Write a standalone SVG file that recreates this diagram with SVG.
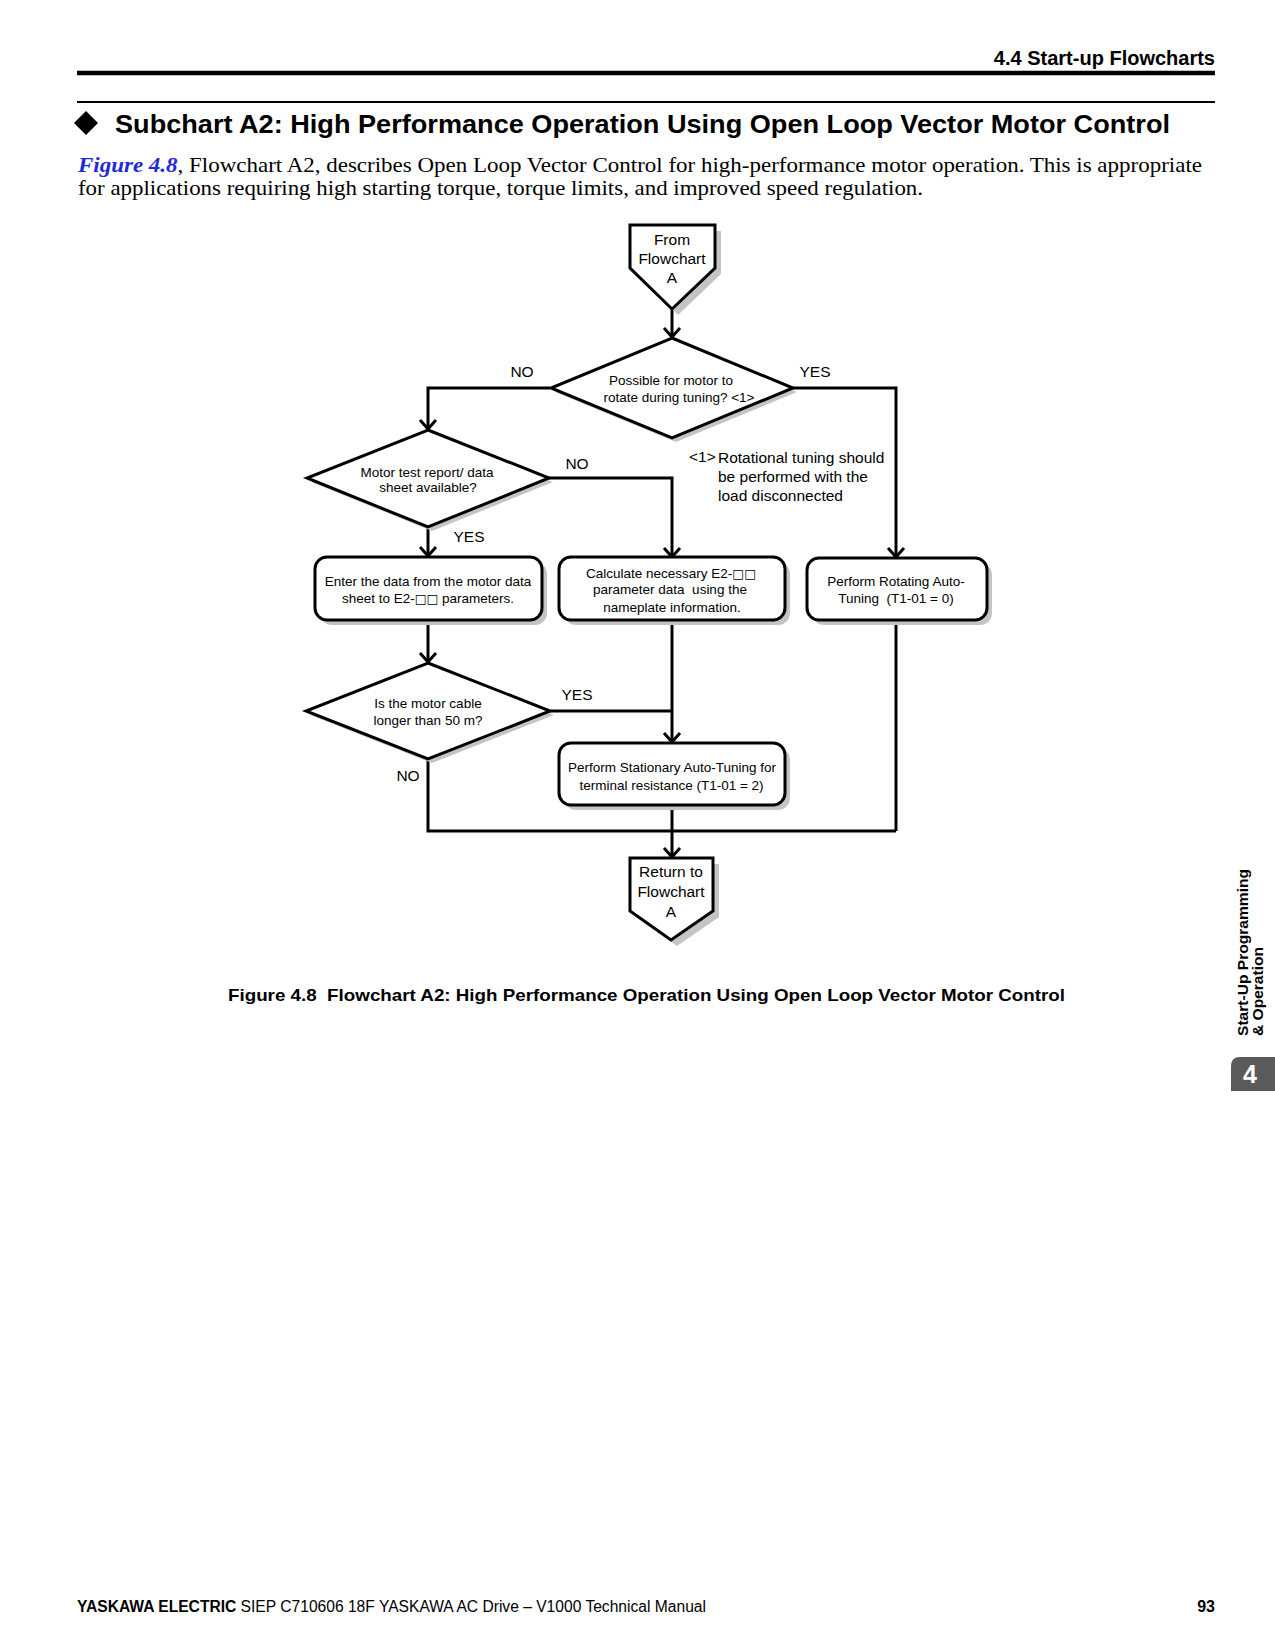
<svg xmlns="http://www.w3.org/2000/svg" width="1275" height="1650" viewBox="0 0 1275 1650">
<style>
  .sans { font-family: "Liberation Sans", Arial, sans-serif; }
  .serif { font-family: "Liberation Serif", "Times New Roman", serif; }
  .shape { fill: #ffffff; stroke: #000000; stroke-width: 3; stroke-linejoin: miter; }
  .shadow { fill: #c4c4c4; stroke: none; }
  .conn { fill: none; stroke: #000000; stroke-width: 3; }
  .t135 { font-family: "Liberation Sans", Arial, "DejaVu Sans", sans-serif; font-size: 13.5px; fill: #000; text-anchor: middle; white-space: pre; }
  .t155 { font-family: "Liberation Sans", Arial, sans-serif; font-size: 15.5px; fill: #000; text-anchor: middle; }
  .lbl { font-family: "Liberation Sans", Arial, sans-serif; font-size: 15.5px; fill: #000; text-anchor: middle; }
  .note { font-family: "Liberation Sans", Arial, sans-serif; font-size: 15.5px; fill: #000; }
  .sq { font-family: "DejaVu Sans", sans-serif; font-size: 12.5px; }
</style>
<defs>
  <marker id="arr" viewBox="-12 -10 14 20" refX="0" refY="0" markerWidth="14" markerHeight="20" markerUnits="userSpaceOnUse" orient="auto">
    <path d="M-9,-8 L0,0 L-9,8" fill="none" stroke="#000" stroke-width="3"/>
  </marker>
</defs>
<rect width="1275" height="1650" fill="#ffffff"/>

<!-- Page header -->
<g id="page-header">
  <text x="1215" y="65" class="sans" font-size="20" font-weight="bold" text-anchor="end">4.4 Start-up Flowcharts</text>
  <line x1="77" y1="73" x2="1215" y2="73" stroke="#000" stroke-width="4.5"/>
  <line x1="77" y1="102" x2="1215" y2="102" stroke="#000" stroke-width="2"/>
  <polygon points="86,111 98,123 86,135 74,123" fill="#000"/>
  <text x="115" y="133" class="sans" font-size="25.5" font-weight="bold" textLength="1055" lengthAdjust="spacingAndGlyphs">Subchart A2: High Performance Operation Using Open Loop Vector Motor Control</text>
  <text x="78" y="172" class="serif" font-size="21" textLength="1124" lengthAdjust="spacingAndGlyphs"><tspan fill="#1f2bd6" font-weight="bold" font-style="italic">Figure 4.8</tspan>, Flowchart A2, describes Open Loop Vector Control for high-performance motor operation. This is appropriate</text>
  <text x="78" y="195" class="serif" font-size="21" textLength="845" lengthAdjust="spacingAndGlyphs">for applications requiring high starting torque, torque limits, and improved speed regulation.</text>
</g>

<!-- Connectors -->
<g id="connectors">
  <path class="conn" d="M672,309 L672,337" marker-end="url(#arr)"/>
  <path class="conn" d="M550,388 L428,388 L428,429" marker-end="url(#arr)"/>
  <path class="conn" d="M793,388 L896,388 L896,557" marker-end="url(#arr)"/>
  <path class="conn" d="M549,478 L672,478 L672,557" marker-end="url(#arr)"/>
  <path class="conn" d="M428,527 L428,556" marker-end="url(#arr)"/>
  <path class="conn" d="M428,620 L428,662" marker-end="url(#arr)"/>
  <path class="conn" d="M672,620 L672,742" marker-end="url(#arr)"/>
  <path class="conn" d="M550,711 L672,711"/>
  <path class="conn" d="M672,805 L672,857" marker-end="url(#arr)"/>
  <path class="conn" d="M428,759 L428,831 L896,831"/>
  <path class="conn" d="M896,620 L896,831"/>
  <text x="522" y="376.5" class="lbl">NO</text>
  <text x="815" y="376.5" class="lbl">YES</text>
  <text x="577" y="468.5" class="lbl">NO</text>
  <text x="469" y="541.5" class="lbl">YES</text>
  <text x="577" y="699.5" class="lbl">YES</text>
  <text x="408" y="780.5" class="lbl">NO</text>
</g>

<!-- From Flowchart A -->
<g id="from-a">
  <polygon class="shadow" points="636,231 721,231 721,274 678,315 636,274"/>
  <polygon class="shape" points="630,225 715,225 715,268 672,309 630,268"/>
  <text x="672" y="244.5" class="t155">From</text>
  <text x="672" y="263.5" class="t155">Flowchart</text>
  <text x="672" y="282.5" class="t155">A</text>
</g>

<!-- Decision 1 -->
<g id="d-rotate">
  <polygon class="shadow" points="676,342 797,392 676,442 555,392"/>
  <polygon class="shape" points="672,338 793,388 672,438 551,388"/>
  <text x="671" y="385" class="t135">Possible for motor to</text>
  <text x="679" y="401.5" class="t135">rotate during tuning? &lt;1&gt;</text>
</g>

<!-- Note -->
<g id="note">
  <text x="689" y="462" class="note" font-size="14.5">&lt;1&gt;</text>
  <text x="718" y="462.5" class="note">Rotational tuning should</text>
  <text x="718" y="481.5" class="note">be performed with the</text>
  <text x="718" y="500.5" class="note">load disconnected</text>
</g>

<!-- Decision 2 -->
<g id="d-datasheet">
  <polygon class="shadow" points="432,434 553,482 432,531 311,482"/>
  <polygon class="shape" points="428,430 549,478 428,527 307,478"/>
  <text x="427" y="476.7" class="t135">Motor test report/ data</text>
  <text x="428" y="492.3" class="t135">sheet available?</text>
</g>

<!-- Box 1 -->
<g id="b-enter">
  <rect class="shadow" x="320" y="562" width="227" height="63" rx="12"/>
  <rect class="shape" x="315" y="557" width="227" height="63" rx="12"/>
  <text x="428" y="585.7" class="t135">Enter the data from the motor data</text>
  <text x="428" y="603.3" class="t135">sheet to E2-<tspan class="sq">□□</tspan> parameters.</text>
</g>

<!-- Box 2 -->
<g id="b-calc">
  <rect class="shadow" x="564" y="562" width="226" height="63" rx="12"/>
  <rect class="shape" x="559" y="557" width="226" height="63" rx="12"/>
  <text x="671" y="577.7" class="t135">Calculate necessary E2-<tspan class="sq">□□</tspan></text>
  <text x="670" y="594.3" class="t135">parameter data  using the</text>
  <text x="672" y="611.7" class="t135">nameplate information.</text>
</g>

<!-- Box 3 -->
<g id="b-rotating">
  <rect class="shadow" x="812" y="563" width="180" height="62" rx="12"/>
  <rect class="shape" x="807" y="558" width="180" height="62" rx="12"/>
  <text x="896" y="585.7" class="t135">Perform Rotating Auto-</text>
  <text x="896" y="602.7" class="t135">Tuning  (T1-01 = 0)</text>
</g>

<!-- Decision 3 -->
<g id="d-cable">
  <polygon class="shadow" points="432,667 554,715 432,763 310,715"/>
  <polygon class="shape" points="428,663 550,711 428,759 306,711"/>
  <text x="428" y="708.3" class="t135">Is the motor cable</text>
  <text x="428" y="725" class="t135">longer than 50 m?</text>
</g>

<!-- Box 4 -->
<g id="b-stationary">
  <rect class="shadow" x="564" y="748" width="226" height="62" rx="12"/>
  <rect class="shape" x="559" y="743" width="226" height="62" rx="12"/>
  <text x="672" y="772.3" class="t135">Perform Stationary Auto-Tuning for</text>
  <text x="671.5" y="790" class="t135">terminal resistance (T1-01 = 2)</text>
</g>

<!-- Return to Flowchart A -->
<g id="return-a">
  <polygon class="shadow" points="636,864 719,864 719,917 677,946 636,917"/>
  <polygon class="shape" points="630,858 713,858 713,911 671,940 630,911"/>
  <text x="671" y="877.2" class="t155">Return to</text>
  <text x="671" y="897" class="t155">Flowchart</text>
  <text x="671" y="916.5" class="t155">A</text>
</g>

<!-- Caption -->
<g id="caption">
  <text x="228" y="1001" class="sans" font-size="17" font-weight="bold" style="white-space:pre" textLength="837" lengthAdjust="spacingAndGlyphs">Figure 4.8  Flowchart A2: High Performance Operation Using Open Loop Vector Motor Control</text>
</g>

<!-- Side tab -->
<g id="side-tab">
  <text transform="translate(1247.5,1036) rotate(-90)" class="sans" font-size="14" font-weight="bold" textLength="167" lengthAdjust="spacingAndGlyphs">Start-Up Programming</text>
  <text transform="translate(1263,1036) rotate(-90)" class="sans" font-size="14" font-weight="bold" textLength="89" lengthAdjust="spacingAndGlyphs">&amp; Operation</text>
  <path d="M1231,1091 L1231,1066 Q1231,1057 1240,1057 L1275,1057 L1275,1091 Z" fill="#5a5a5a"/>
  <text x="1250" y="1083" class="sans" font-size="25" font-weight="bold" fill="#ffffff" text-anchor="middle">4</text>
</g>

<!-- Footer -->
<g id="footer">
  <text x="77" y="1612" class="sans" font-size="16" textLength="629" lengthAdjust="spacingAndGlyphs"><tspan font-weight="bold">YASKAWA ELECTRIC</tspan> SIEP C710606 18F YASKAWA AC Drive – V1000 Technical Manual</text>
  <text x="1215" y="1612" class="sans" font-size="16" font-weight="bold" text-anchor="end">93</text>
</g>
</svg>
